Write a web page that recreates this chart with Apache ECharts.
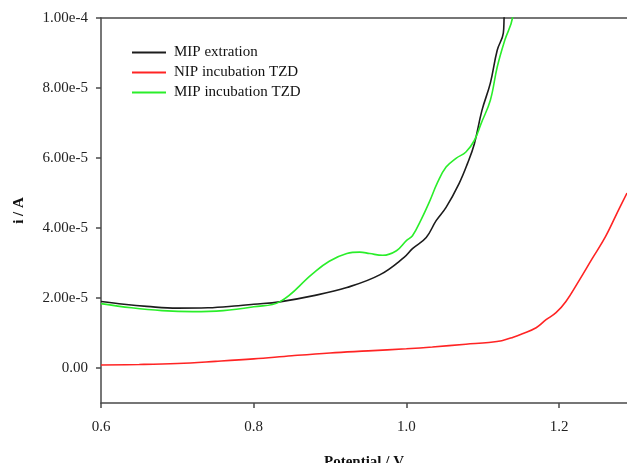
<!DOCTYPE html>
<html><head><meta charset="utf-8">
<script src="https://cdn.jsdelivr.net/npm/echarts@6/dist/echarts.min.js"></script>
<style>html,body{margin:0;padding:0;background:#fff}#c{width:627px;height:463px}</style>
</head><body><div id="c"></div>
<script>
// Potential (V) vs current (A)
var mipExtraction = [
  [0.600,19.0e-6],[0.630,18.2e-6],[0.660,17.6e-6],[0.700,17.1e-6],[0.740,17.2e-6],[0.780,17.8e-6],
  [0.800,18.2e-6],[0.834,18.9e-6],[0.877,20.6e-6],[0.922,23.0e-6],[0.965,26.6e-6],[0.997,31.6e-6],
  [1.008,34.1e-6],[1.026,37.3e-6],[1.039,42.1e-6],[1.052,45.9e-6],[1.069,52.7e-6],[1.080,58.4e-6],
  [1.089,64.0e-6],[1.099,73.6e-6],[1.110,81.4e-6],[1.119,90.8e-6],[1.127,95.7e-6],[1.128,100e-6],[1.130,110e-6]
];
var nipIncubation = [
  [0.600,0.86e-6],[0.650,1.0e-6],[0.700,1.3e-6],[0.750,1.9e-6],[0.800,2.6e-6],[0.850,3.5e-6],
  [0.900,4.3e-6],[0.950,4.9e-6],[1.000,5.5e-6],[1.034,6.0e-6],[1.078,6.8e-6],[1.108,7.3e-6],
  [1.125,7.8e-6],[1.140,8.8e-6],[1.152,9.8e-6],[1.170,11.5e-6],[1.183,13.8e-6],[1.196,15.8e-6],
  [1.209,19.0e-6],[1.226,24.9e-6],[1.243,31.1e-6],[1.261,37.6e-6],[1.278,45.2e-6],[1.289,50.0e-6]
];
var mipIncubation = [
  [0.600,18.4e-6],[0.640,17.2e-6],[0.680,16.4e-6],[0.720,16.1e-6],[0.760,16.4e-6],[0.800,17.5e-6],
  [0.834,18.9e-6],[0.877,26.9e-6],[0.899,30.5e-6],[0.922,32.7e-6],[0.939,33.1e-6],[0.952,32.7e-6],
  [0.969,32.2e-6],[0.987,33.5e-6],[1.000,36.4e-6],[1.008,37.8e-6],[1.020,42.7e-6],[1.030,47.4e-6],
  [1.041,53.1e-6],[1.052,57.4e-6],[1.065,59.9e-6],[1.078,61.7e-6],[1.089,65.0e-6],[1.098,69.9e-6],
  [1.110,76.5e-6],[1.119,86.0e-6],[1.129,93.7e-6],[1.139,100e-6],[1.142,110e-6]
];
var seriesNames = ['MIP extration','NIP incubation TZD','MIP incubation TZD'];
var seriesColors = ['#1c1c1c','#ff2424','#2aee2a'];
var xTickValues = [0.6,0.8,1.0,1.2];
var xTickLabels = ['0.6','0.8','1.0','1.2'];
var yTickValues = [0,2e-5,4e-5,6e-5,8e-5,1e-4];
var yTickLabels = ['0.00','2.00e-5','4.00e-5','6.00e-5','8.00e-5','1.00e-4'];

function lookup(vals, labels, v){
  for (var i=0;i<vals.length;i++){ if (Math.abs(vals[i]-v) < 1e-9*Math.max(1,Math.abs(vals[i])) + 1e-12) return labels[i]; }
  return '';
}
var FONT = '"Liberation Serif", "Times New Roman", serif';
var axisColor = '#4a4a4a';
var chart = echarts.init(document.getElementById('c'));
var datas = [mipExtraction, nipIncubation, mipIncubation];
chart.setOption({
  animation:false,
  backgroundColor:'#fff',
  grid:{left:101, top:18, right:0, bottom:60, containLabel:false, outerBoundsMode:'none'},
  legend:{
    orient:'vertical', left:127, top:40, itemWidth:34, itemHeight:2, itemGap:5,
    icon:'rect',
    textStyle:{fontFamily:FONT, fontSize:15, color:'#111', lineHeight:15, padding:[0,0,0,3]},
    data:seriesNames.map(function(n,i){return {name:n, itemStyle:{color:seriesColors[i]}};})
  },
  xAxis:[{
    type:'value', min:0.6, max:1.289, position:'bottom',
    splitLine:{show:false},
    axisLine:{show:true, onZero:false, lineStyle:{color:axisColor, width:1.5}},
    axisTick:{show:true, customValues:xTickValues, length:5, inside:false, lineStyle:{color:axisColor, width:1.5}},
    axisLabel:{customValues:xTickValues, margin:17, fontFamily:FONT, fontSize:15, color:'#222',
      formatter:function(v){return lookup(xTickValues,xTickLabels,v);}},
    name:'Potential / V', nameLocation:'middle', nameGap:52,
    nameTextStyle:{fontFamily:FONT, fontSize:15, fontWeight:'bold', color:'#111'}
  },{
    type:'value', min:0.6, max:1.289, position:'top',
    splitLine:{show:false}, axisTick:{show:false}, axisLabel:{show:false},
    axisLine:{show:true, onZero:false, lineStyle:{color:axisColor, width:1.5}}
  }],
  yAxis:{
    type:'value', min:-1e-5, max:1e-4,
    splitLine:{show:false},
    axisLine:{show:true, onZero:false, lineStyle:{color:axisColor, width:1.5}},
    axisTick:{show:true, customValues:yTickValues, length:5, inside:false, lineStyle:{color:axisColor, width:1.5}},
    axisLabel:{customValues:yTickValues, margin:13, fontFamily:FONT, fontSize:15, color:'#222',
      formatter:function(v){return lookup(yTickValues,yTickLabels,v);}},
    name:'i / A', nameLocation:'middle', nameGap:74, nameRotate:90,
    nameTextStyle:{fontFamily:FONT, fontSize:15, fontWeight:'bold', color:'#111'}
  },
  series:datas.map(function(d,i){
    return {name:seriesNames[i], type:'line', data:d, showSymbol:false, smooth:0.4, clip:true,
      lineStyle:{color:seriesColors[i], width:1.6}, itemStyle:{color:seriesColors[i]}};
  })
});
</script></body></html>
